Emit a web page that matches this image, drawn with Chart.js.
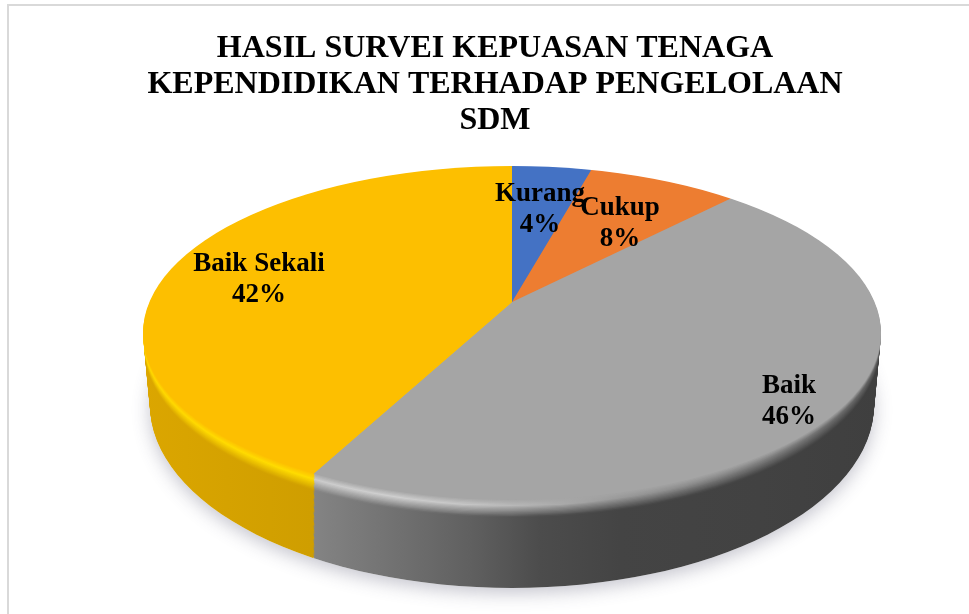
<!DOCTYPE html>
<html>
<head>
<meta charset="utf-8">
<script src="https://cdn.jsdelivr.net/npm/chart.js@4"></script>
<style>
  html, body { margin: 0; padding: 0; background: #ffffff; }
  canvas { display: block; }
</style>
</head>
<body>
<canvas id="chart-survey" width="969" height="614"></canvas>
<script>
const titleLines = [
  "HASIL SURVEI KEPUASAN TENAGA",
  "KEPENDIDIKAN TERHADAP PENGELOLAAN",
  "SDM",
];
const categories = ["Kurang", "Cukup", "Baik", "Baik Sekali"];
// labels on the picture are rounded, slice angles read a bit finer
const percentages = [4.3, 8, 45.5, 42.2];
const sliceColors = ["#4472c4", "#ed7d31", "#a5a5a5", "#fdbf00"];

// where each data label sits on the page
const labelSpots = [[540, 194], [620, 208], [789, 386], [259, 264]];

// fake 3D: the apex sits above the middle of the ellipse
const APEX = { x: 512, y: 302 };
const APEX_DROP = 84;
const SPREAD = { x: 520, y: 240 };
const TOP_RIM = { x: 512, y: 333, rx: 369, ry: 167 };
const FOOT_RIM = { x: 512, y: 405, rx: 362, ry: 183 };
const DEPTH_STEPS = 72;

// side wall colours by page x, one entry per slice: [x, rim highlight, wall]
const wallRamps = [
  [[300, "#4472c4", "#2f5597"], [700, "#4472c4", "#2f5597"]],
  [[300, "#ed7d31", "#b85f22"], [700, "#ed7d31", "#b85f22"]],
  [[312, "#cbcbcb", "#848484"], [400, "#cfcfcf", "#707070"], [470, "#c4c4c4", "#606060"],
   [540, "#b0b0b0", "#4c4c4c"], [620, "#989898", "#444444"], [760, "#808080", "#424242"],
   [880, "#606060", "#3f3f3f"]],
  [[143, "#ffd800", "#dba600"], [312, "#ffdc00", "#cf9e00"]],
];

function hexToRgb(hex) {
  return [1, 3, 5].map((i) => parseInt(hex.slice(i, i + 2), 16));
}

function mixColor(a, b, t) {
  const ca = hexToRgb(a);
  const cb = hexToRgb(b);
  return "rgb(" + ca.map((v, i) => Math.round(v + (cb[i] - v) * t)).join(",") + ")";
}

// face -> highlight -> wall as we go down the rim
function wallColor(face, stop, t) {
  if (t < 0.07) return mixColor(face, stop[1], t / 0.07);
  if (t < 0.2) return mixColor(stop[1], stop[2], (t - 0.07) / 0.13);
  return stop[2];
}

function rimAt(t) {
  return {
    x: TOP_RIM.x + (FOOT_RIM.x - TOP_RIM.x) * t,
    y: TOP_RIM.y + (FOOT_RIM.y - TOP_RIM.y) * t,
    rx: TOP_RIM.rx + (FOOT_RIM.rx - TOP_RIM.rx) * t,
    ry: TOP_RIM.ry + (FOOT_RIM.ry - TOP_RIM.ry) * t,
  };
}

function drawArcs(ctx, arcs, t, fillFor) {
  const rim = rimAt(t);
  arcs.forEach((arc, i) => {
    const sx = SPREAD.x / arc.outerRadius;
    const sy = SPREAD.y / arc.outerRadius;
    ctx.save();
    ctx.beginPath();
    ctx.ellipse(rim.x, rim.y, rim.rx, rim.ry, 0, 0, Math.PI * 2);
    ctx.clip();
    ctx.translate(APEX.x, APEX.y + APEX_DROP * t);
    ctx.scale(sx, sy);
    ctx.translate(-arc.x, -arc.y);
    const saved = arc.options;
    const opts = Object.create(saved);
    opts.backgroundColor = fillFor(i, arc, sx);
    arc.options = opts;
    arc.draw(ctx);
    arc.options = saved;
    ctx.restore();
  });
}

const pie3d = {
  id: "pie3d",
  beforeDraw(chart) {
    const ctx = chart.ctx;
    ctx.save();
    ctx.strokeStyle = "#d9d9d9";
    ctx.lineWidth = 2;
    // frame runs off the right and bottom of the picture
    ctx.strokeRect(8, 5, 1000, 640);
    ctx.restore();
  },
  beforeDatasetsDraw(chart) {
    const ctx = chart.ctx;
    const arcs = chart.getDatasetMeta(0).data;

    // soft shadow under the disc
    ctx.save();
    ctx.fillStyle = "#ffffff";
    ctx.shadowColor = "rgba(70,70,100,0.32)";
    ctx.shadowBlur = 18;
    ctx.shadowOffsetY = 5;
    ctx.beginPath();
    ctx.ellipse(FOOT_RIM.x, FOOT_RIM.y, FOOT_RIM.rx, FOOT_RIM.ry, 0, 0, Math.PI * 2);
    ctx.fill();
    ctx.beginPath();
    ctx.ellipse(TOP_RIM.x, TOP_RIM.y + 35, TOP_RIM.rx - 4, TOP_RIM.ry + 8, 0, Math.PI * 0.1, Math.PI * 0.9);
    ctx.fill();
    ctx.restore();

    for (let step = DEPTH_STEPS; step >= 1; step--) {
      const t = step / DEPTH_STEPS;
      drawArcs(ctx, arcs, t, (i, arc, sx) => {
        const ramp = wallRamps[i];
        const x0 = ramp[0][0];
        const x1 = ramp[ramp.length - 1][0];
        const toLocal = (x) => arc.x + (x - APEX.x) / sx;
        const g = ctx.createLinearGradient(toLocal(x0), 0, toLocal(x1), 0);
        ramp.forEach((stop) => {
          g.addColorStop((stop[0] - x0) / (x1 - x0), wallColor(sliceColors[i], stop, t));
        });
        return g;
      });
    }
    drawArcs(ctx, arcs, 0, (i) => sliceColors[i]);
    return false;
  },
  afterDraw(chart) {
    const ctx = chart.ctx;
    ctx.save();
    ctx.fillStyle = "#000000";
    ctx.font = "bold 27px 'Liberation Serif'";
    ctx.textAlign = "center";
    ctx.textBaseline = "middle";
    categories.forEach((name, i) => {
      const [x, y] = labelSpots[i];
      ctx.fillText(name, x, y);
      ctx.fillText(Math.round(percentages[i]) + "%", x, y + 31);
    });
    ctx.restore();
  },
};

new Chart(document.getElementById("chart-survey"), {
  type: "pie",
  data: {
    labels: categories,
    datasets: [{
      data: percentages,
      backgroundColor: sliceColors,
      borderWidth: 0,
    }],
  },
  options: {
    responsive: false,
    animation: false,
    layout: { padding: { left: 21, top: 8 } },
    plugins: {
      legend: { display: false },
      tooltip: { enabled: false },
      title: {
        display: true,
        text: titleLines,
        color: "#000000",
        font: { family: "'Liberation Serif'", size: 32, weight: "bold", lineHeight: 1.14 },
        padding: { top: 22, bottom: 10 },
      },
    },
  },
  plugins: [pie3d],
});
</script>
</body>
</html>
